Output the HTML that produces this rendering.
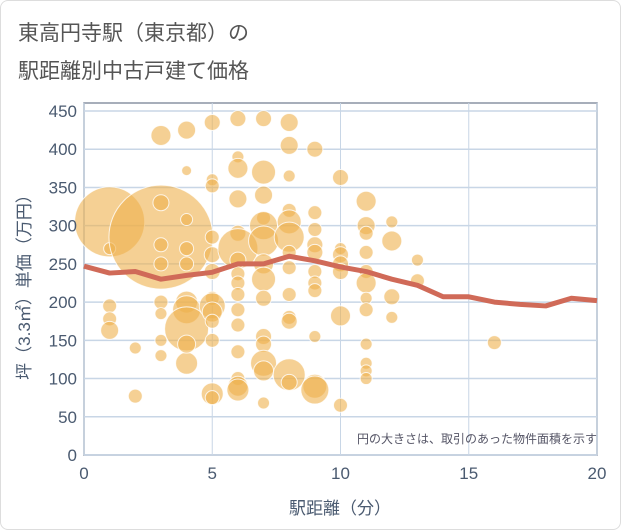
<!DOCTYPE html>
<html><head><meta charset="utf-8"><style>
body{margin:0;background:#fff;font-family:"Liberation Sans","Noto Sans CJK JP",sans-serif;}
#card{position:absolute;left:0;top:0;width:619px;height:528px;border:1px solid #ddd;border-radius:8px;background:#fff;}
</style></head><body>
<div id="card"></div>
<svg id="chart" width="621" height="530" style="position:absolute;left:0;top:0">
<text x="18" y="40" font-size="21" fill="#555">東高円寺駅（東京都）の</text>
<text x="18" y="78" font-size="21" fill="#555">駅距離別中古戸建て価格</text>
<g id="grid"></g><g id="bubbles"></g><g id="line"></g><g id="axes"></g>
<text x="597" y="443" font-size="12" fill="#556" text-anchor="end">円の大きさは、取引のあった物件面積を示す</text>
<text x="340" y="514" font-size="17" fill="#4a5a70" text-anchor="middle">駅距離（分）</text>
<text transform="translate(30,283) rotate(-90)" font-size="17" fill="#4a5a70" text-anchor="middle">坪（3.3㎡）単価（万円）</text>
</svg>
<script>
const xTicks=[0,5,10,15,20];
const yTicks=[0,50,100,150,200,250,300,350,400,450];
const lineX=[0,1,2,3,4,5,6,7,8,9,10,11,12,13,14,15,16,17,18,19,20];
const lineY=[247,238,240,230,235,239,250,250,260,254,246,240,230,222,207,207,200,197,195,205,202];
const bx=[1,1,1,1,1,2,2,3,3,3,3,3,3,3,3,3,4,4,4,4,4,4,4,4,4,4,5,5,5,5,5,5,5,5,5,5,5,5,5,6,6,6,6,6,6,6,6,6,6,6,6,6,6,6,6,7,7,7,7,7,7,7,7,7,7,7,7,7,7,8,8,8,8,8,8,8,8,8,8,8,8,8,9,9,9,9,9,9,9,9,9,9,9,10,10,10,10,10,10,10,11,11,11,11,11,11,11,11,11,11,11,11,12,12,12,12,13,13,16];
const by=[305,270,195,178,163,140,77,285,418,330,275,250,200,185,150,130,425,372,308,270,250,200,190,165,120,145,435,360,352,285,262,240,205,195,187,175,150,80,75,440,390,375,335,290,270,255,237,225,210,190,170,135,100,90,85,440,370,340,310,300,280,250,230,205,155,145,120,110,68,435,405,365,320,305,285,265,245,210,180,175,105,95,400,317,295,275,265,240,225,215,155,90,85,363,270,262,250,240,182,65,332,300,290,265,240,225,205,190,145,120,110,100,305,280,207,180,255,228,147];
const bs=[35,6,7,7,9,6,7,52,10,8,7,7,7,6,6,6,9,5,6,7,7,11,14,22,11,9,8,6,7,7,8,8,7,13,10,7,7,11,7,8,6,10,9,8,20,8,7,7,7,7,7,7,7,10,11,8,12,9,7,14,15,10,12,8,8,8,13,10,6,9,9,6,7,12,15,7,7,7,7,8,16,8,8,7,7,8,8,7,7,7,6,12,14,8,6,8,8,8,10,7,10,9,7,7,7,10,6,7,6,6,6,6,6,10,8,6,6,7,7];
const L=84,R=597,T=103,B=455;
const sx=v=>L+(R-L)*v/20, sy=v=>B-(B-111)*v/450;
const NS="http://www.w3.org/2000/svg";
function mk(t,a,p){const e=document.createElementNS(NS,t);for(const k in a)e.setAttribute(k,a[k]);p.appendChild(e);return e;}
const grid=document.getElementById('grid'),ax=document.getElementById('axes');
const bg=mk('rect',{x:L,y:T,width:R-L,height:B-T,fill:'#fff',stroke:'#8a94a4','stroke-width':1.5},grid);


yTicks.forEach(v=>{
 const l=mk('line',{x1:L,x2:R,y1:sy(v),y2:sy(v),stroke:'#c8d6e6','stroke-width':1.5},grid);
 
 
 const t=mk('text',{x:77,y:sy(v)+6,'font-size':17,fill:'#4a5a70','text-anchor':'end'},ax);t.textContent=v;
 
 
});
xTicks.forEach(v=>{
 const l=mk('line',{x1:sx(v),x2:sx(v),y1:T,y2:B,stroke:'#c8d6e6','stroke-width':1},grid);
 
 
 const t=mk('text',{x:sx(v),y:479,'font-size':17,fill:'#4a5a70','text-anchor':'middle'},ax);t.textContent=v;
 
 
});
const bub=document.getElementById('bubbles');
bx.forEach((x,i)=>{
 const c=mk('circle',{cx:sx(x),cy:sy(by[i]),r:bs[i],fill:'rgba(238,176,76,0.6)',stroke:'rgba(255,255,255,0.8)','stroke-width':1},bub);
 
 
});
const pts=lineX.map((x,i)=>sx(x)+','+sy(lineY[i])).join(' ');
const pl=mk('polyline',{points:pts,fill:'none',stroke:'#d06a58','stroke-width':5,'stroke-linejoin':'round'},document.getElementById('line'));


</script>
</body></html>
